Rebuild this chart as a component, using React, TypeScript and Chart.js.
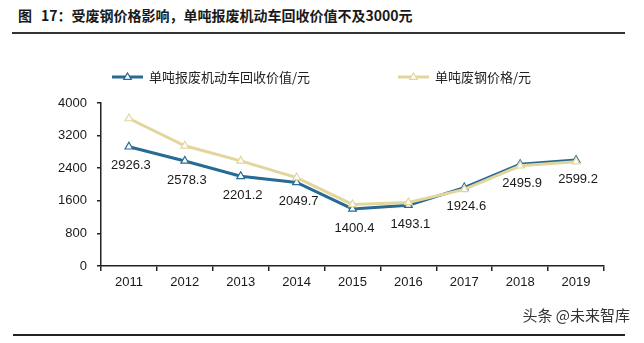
import React, { useEffect, useRef } from "react";
import { Chart, registerables } from "chart.js";

Chart.register(...registerables);

const years = ["2011", "2012", "2013", "2014", "2015", "2016", "2017", "2018", "2019"];
const vehicleValue = [2926.3, 2578.3, 2201.2, 2049.7, 1400.4, 1493.1, 1924.6, 2495.9, 2599.2];
const scrapSteelPrice = [3620, 2950, 2580, 2170, 1510, 1560, 1880, 2460, 2560];
const vehicleLabel = "单吨报废机动车回收价值/元";
const steelLabel = "单吨废钢价格/元";
const titleFigure = "图";
const titleText = "17：受废钢价格影响，单吨报废机动车回收价值不及3000元";
const sourceText = "头条 @未来智库";

const BLUE = "#276a93";
const YELLOW = "#e3d69c";
const NUM_FONT = '"Liberation Sans", Arial, sans-serif';
const CJK_FONT = '"Noto Sans CJK SC", "Noto Sans", sans-serif';

function drawTriangle(ctx: CanvasRenderingContext2D, x: number, y: number, r: number, color: string) {
  ctx.save();
  ctx.beginPath();
  ctx.moveTo(x, y - r);
  ctx.lineTo(x + r * 0.95, y + r * 0.6);
  ctx.lineTo(x - r * 0.95, y + r * 0.6);
  ctx.closePath();
  ctx.fillStyle = "#ffffff";
  ctx.fill();
  ctx.strokeStyle = color;
  ctx.lineWidth = 1.2;
  ctx.stroke();
  ctx.restore();
}

const overlayPlugin = {
  id: "overlay",
  afterDatasetsDraw(chart: any) {
    const ctx: CanvasRenderingContext2D = chart.ctx;
    const meta = chart.getDatasetMeta(0);
    ctx.save();
    ctx.font = `13px ${NUM_FONT}`;
    ctx.fillStyle = "#1a1a1a";
    ctx.textAlign = "center";
    ctx.textBaseline = "middle";
    meta.data.forEach((pt: any, i: number) => {
      ctx.fillText(vehicleValue[i].toFixed(1), pt.x + 2, pt.y + 19);
    });
    ctx.restore();

    const items = [
      { x: 112, color: BLUE, text: vehicleLabel },
      { x: 398, color: YELLOW, text: steelLabel },
    ];
    const ly = 77;
    items.forEach((it) => {
      ctx.save();
      ctx.strokeStyle = it.color;
      ctx.lineWidth = 3;
      ctx.beginPath();
      ctx.moveTo(it.x, ly);
      ctx.lineTo(it.x + 31, ly);
      ctx.stroke();
      ctx.restore();
      drawTriangle(ctx, it.x + 15.5, ly, 4, it.color);
      ctx.save();
      ctx.font = `13px ${CJK_FONT}`;
      ctx.fillStyle = "#222";
      ctx.textAlign = "left";
      ctx.textBaseline = "middle";
      ctx.fillText(it.text, it.x + 37, ly);
      ctx.restore();
    });
  },
};

export default function App() {
  const ref = useRef<HTMLCanvasElement | null>(null);

  useEffect(() => {
    if (!ref.current) return;
    const chart = new Chart(ref.current, {
      type: "line",
      data: {
        labels: years,
        datasets: [
          {
            label: vehicleLabel,
            data: vehicleValue,
            borderColor: BLUE,
            backgroundColor: "#ffffff",
            borderWidth: 3,
            pointStyle: "triangle",
            pointRadius: 4.5,
            pointBorderWidth: 1.2,
            pointBorderColor: BLUE,
            pointBackgroundColor: "#ffffff",
            tension: 0,
            order: 1,
          },
          {
            label: steelLabel,
            data: scrapSteelPrice,
            borderColor: YELLOW,
            backgroundColor: "#ffffff",
            borderWidth: 3,
            pointStyle: "triangle",
            pointRadius: 4.5,
            pointBorderWidth: 1.2,
            pointBorderColor: YELLOW,
            pointBackgroundColor: "#ffffff",
            tension: 0,
            order: 0,
          },
        ],
      },
      options: {
        animation: false,
        responsive: false,
        layout: { padding: { left: 0, top: 103, right: 40, bottom: 0 } },
        plugins: {
          legend: { display: false },
          title: { display: false },
          tooltip: { enabled: false },
        },
        scales: {
          x: {
            offset: true,
            grid: {
              offset: true,
              drawOnChartArea: false,
              drawTicks: true,
              tickLength: 5,
              color: "#222",
              lineWidth: 1.5,
            },
            border: { color: "#222", width: 1.5 },
            ticks: {
              color: "#1a1a1a",
              font: { family: NUM_FONT, size: 13 },
              padding: 4,
              maxRotation: 0,
            },
            afterFit: (s: any) => {
              s.height = 77;
            },
          },
          y: {
            min: 0,
            max: 4000,
            ticks: {
              stepSize: 800,
              color: "#1a1a1a",
              font: { family: NUM_FONT, size: 13 },
              padding: 10,
              callback: (v: any) => String(v),
            },
            grid: {
              drawOnChartArea: false,
              drawTicks: true,
              tickLength: 4,
              color: "#222",
              lineWidth: 1.5,
            },
            border: { color: "#222", width: 1.5 },
            afterFit: (s: any) => {
              s.width = 101;
            },
          },
        },
      },
      plugins: [overlayPlugin],
    });
    return () => chart.destroy();
  }, []);

  return (
    <div
      style={{
        position: "fixed",
        left: 0,
        top: 0,
        width: 644,
        height: 343,
        background: "#ffffff",
        overflow: "hidden",
      }}
    >
      <div
        style={{
          position: "absolute",
          left: 18,
          top: 4,
          height: 22,
          lineHeight: "22px",
          fontFamily: CJK_FONT,
          fontWeight: 700,
          fontSize: 14,
          color: "#1a1a1a",
          whiteSpace: "nowrap",
        }}
      >
        <span style={{ marginRight: 9 }}>{titleFigure}</span>
        {titleText}
      </div>
      <div
        style={{
          position: "absolute",
          left: 12,
          top: 32,
          width: 613,
          height: 2,
          background: "#333",
        }}
      />
      <canvas ref={ref} width={644} height={343} style={{ position: "absolute", left: 0, top: 0, width: 644, height: 343 }} />
      <div
        style={{
          position: "absolute",
          right: 14,
          top: 305,
          height: 20,
          lineHeight: "20px",
          fontFamily: CJK_FONT,
          fontSize: 15,
          color: "#333",
          whiteSpace: "nowrap",
        }}
      >
        {sourceText}
      </div>
      <div
        style={{
          position: "absolute",
          left: 13,
          top: 334,
          width: 612,
          height: 2,
          background: "#222",
        }}
      />
    </div>
  );
}
